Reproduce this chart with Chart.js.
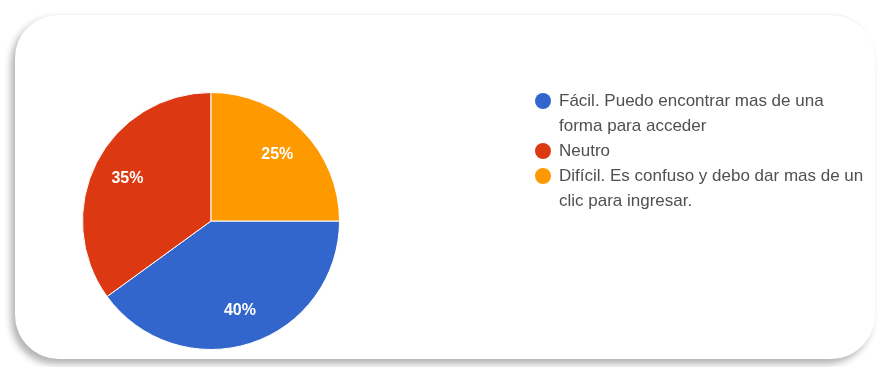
<!DOCTYPE html>
<html>
<head>
<meta charset="utf-8">
<script src="https://cdn.jsdelivr.net/npm/chart.js@4/dist/chart.umd.min.js"></script>
<style>
  html, body { margin: 0; padding: 0; background: #fff; }
  body { width: 881px; height: 367px; position: relative; overflow: hidden; }
  .card {
    position: absolute; left: 15px; top: 14px; width: 860px; height: 344px;
    background: #fff; border-radius: 44px;
    border-top: 1px solid #f0f0f0;
    box-shadow: -4px 5px 7px rgba(0,0,0,0.3);
  }
  canvas { position: absolute; left: 0; top: 0; }
</style>
</head>
<body>
<div class="card"></div>
<canvas id="pie" width="881" height="367"></canvas>
<script>
const categories = [
  ['Fácil. Puedo encontrar mas de una', 'forma para acceder'],
  ['Neutro'],
  ['Difícil. Es confuso y debo dar mas de un', 'clic para ingresar.']
];
const percentages = [40, 35, 25];
const sliceColors = ['#3366cc', '#dc3912', '#ff9900'];

// Percentage labels drawn inside each slice
const sliceLabels = {
  id: 'sliceLabels',
  afterDatasetsDraw(chart) {
    const ctx = chart.ctx;
    const meta = chart.getDatasetMeta(0);
    ctx.save();
    ctx.font = 'bold 16px Arial, sans-serif';
    ctx.fillStyle = '#ffffff';
    ctx.textAlign = 'center';
    ctx.textBaseline = 'middle';
    meta.data.forEach((arc, i) => {
      const p = arc.getProps(['x', 'y', 'startAngle', 'endAngle', 'outerRadius'], true);
      const mid = (p.startAngle + p.endAngle) / 2;
      const r = p.outerRadius * 0.73;
      ctx.fillText(percentages[i] + '%', p.x + Math.cos(mid) * r, p.y + Math.sin(mid) * r);
    });
    ctx.restore();
  }
};

// Legend on the right with wrapped entries
const sideLegend = {
  id: 'sideLegend',
  afterDraw(chart) {
    const ctx = chart.ctx;
    const dotX = 543, textX = 559, lineH = 25;
    let y = 101;
    ctx.save();
    ctx.font = '17px Arial, sans-serif';
    ctx.textBaseline = 'middle';
    ctx.textAlign = 'left';
    categories.forEach((lines, i) => {
      ctx.beginPath();
      ctx.arc(dotX, y, 8, 0, Math.PI * 2);
      ctx.fillStyle = sliceColors[i];
      ctx.fill();
      ctx.fillStyle = '#505050';
      lines.forEach((t, j) => ctx.fillText(t, textX, y + j * lineH));
      y += lines.length * lineH;
    });
    ctx.restore();
  }
};

new Chart(document.getElementById('pie'), {
  type: 'pie',
  data: {
    labels: categories.map(c => c.join(' ')),
    datasets: [{
      data: percentages,
      backgroundColor: sliceColors,
      borderColor: '#ffffff',
      borderWidth: 1
    }]
  },
  options: {
    responsive: false,
    animation: false,
    rotation: 90,
    layout: { padding: { left: 82, top: 92, right: 541, bottom: 17 } },
    plugins: { legend: { display: false }, tooltip: { enabled: false } }
  },
  plugins: [sliceLabels, sideLegend]
});
</script>
</body>
</html>
